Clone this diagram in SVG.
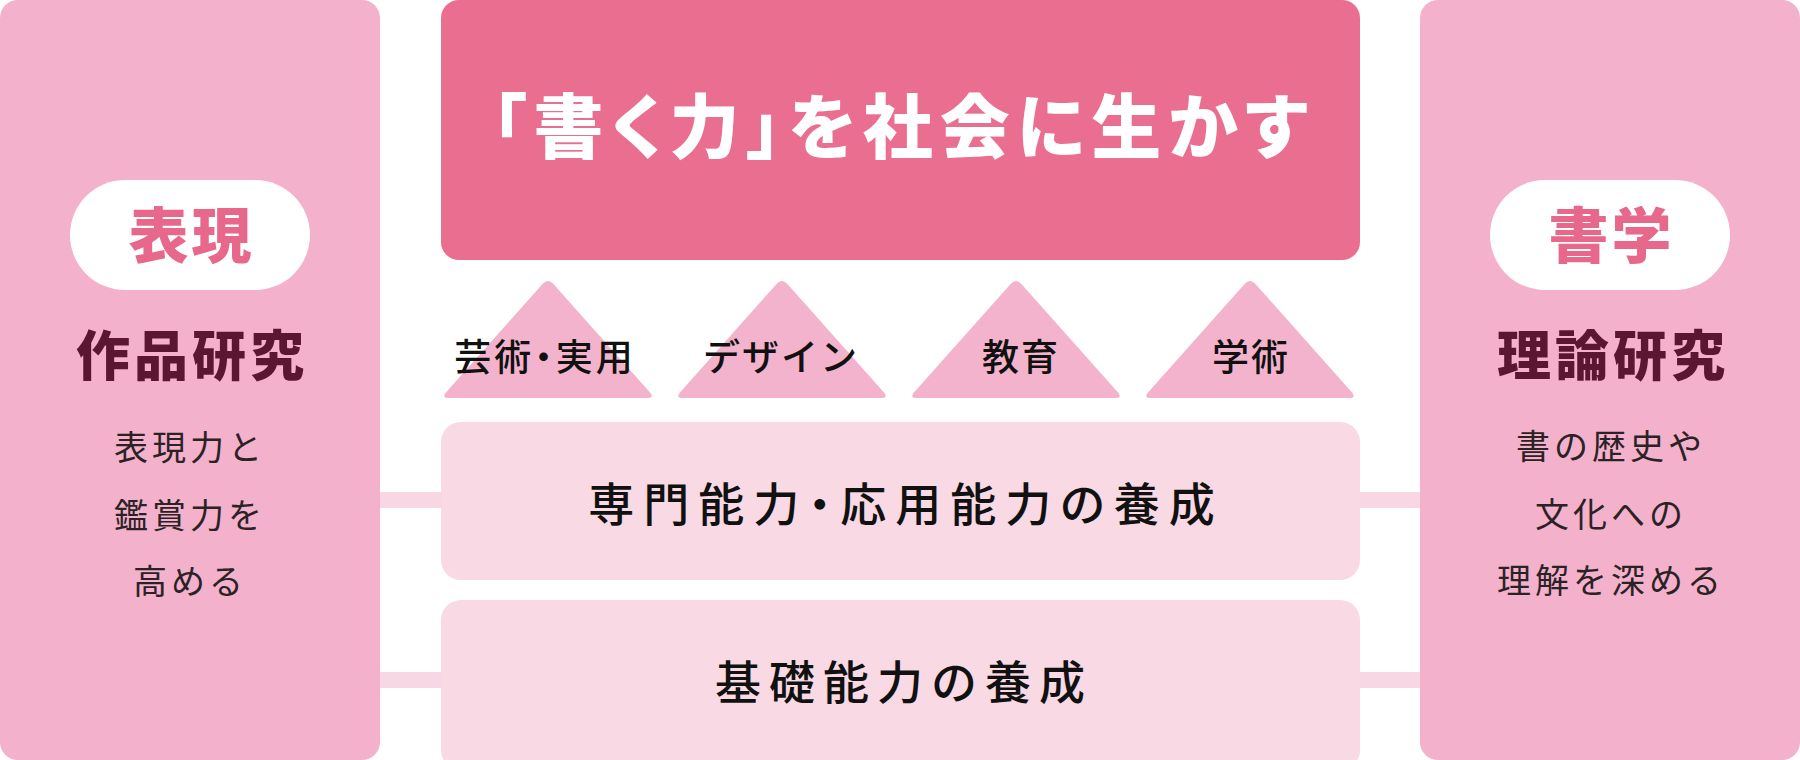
<svg xmlns="http://www.w3.org/2000/svg" xmlns:xlink="http://www.w3.org/1999/xlink" width="1800" height="760" viewBox="0 0 1800 760">
<style>
text{font-family:"Noto Sans CJK JP","Noto Sans CJK SC",sans-serif;text-anchor:middle}
.panel{fill:#f4b1cb}
.pill{fill:#ffffff}
.pilltxt{fill:#e8688c;font-size:60px;font-weight:900;letter-spacing:3px}
.head{fill:#5b1731;font-size:54px;font-weight:900;letter-spacing:4px}
.sub{fill:#2b2226;font-size:34px;font-weight:400;letter-spacing:4px}
.top{fill:#e96e8f}
.title{fill:#ffffff;font-size:70px;font-weight:900;letter-spacing:7px;font-feature-settings:"palt"}
.tri{fill:#f4b3cc}
.tritxt{fill:#111111;font-size:37px;font-weight:500;letter-spacing:2px}
.palt{font-feature-settings:"palt";letter-spacing:3px}
.box{fill:#f8d9e4}
.boxtxt{fill:#111111;font-size:46px;font-weight:500;letter-spacing:8px}
.boxtxt2{font-feature-settings:"palt";letter-spacing:9px}
.bar{fill:#f7d7e3}
</style>
<defs>
<path id="triShape" d="M -5.4,283.9 Q 0,278 5.4,283.9 L 101.6,392.1 Q 107,398 99,398 L -99,398 Q -107,398 -101.6,392.1 Z"/>
</defs>
<g id="connectors">
<rect class="bar" x="378" y="492" width="66" height="16"/>
<rect class="bar" x="378" y="672" width="66" height="16"/>
<rect class="bar" x="1356" y="492" width="66" height="16"/>
<rect class="bar" x="1356" y="672" width="66" height="16"/>
</g>
<g id="left-panel">
<rect class="panel" x="0" y="0" width="380" height="760" rx="18"/>
<rect class="pill" x="70" y="180" width="240" height="110" rx="55"/>
<text class="pilltxt" x="191.5" y="258">表現</text>
<text class="head" x="192" y="376">作品研究</text>
<text class="sub" x="190" y="460">表現力と</text>
<text class="sub" x="190" y="528">鑑賞力を</text>
<text class="sub" x="190" y="594">高める</text>
</g>
<g id="right-panel">
<rect class="panel" x="1420" y="0" width="380" height="760" rx="18"/>
<rect class="pill" x="1490" y="180" width="240" height="110" rx="55"/>
<text class="pilltxt" x="1611.5" y="258">書学</text>
<text class="head" x="1613" y="376">理論研究</text>
<text class="sub" x="1611" y="459">書の歴史や</text>
<text class="sub" x="1611" y="527">文化への</text>
<text class="sub" x="1611" y="593">理解を深める</text>
</g>
<g id="goal">
<rect class="top" x="441" y="0" width="919" height="260" rx="18"/>
<text class="title" x="903" y="153">「書く力」を社会に生かす</text>
</g>
<g id="field-art">
<use xlink:href="#triShape" class="tri" x="548"/>
<text class="tritxt palt" x="545" y="371">芸術・実用</text>
</g>
<g id="field-design">
<use xlink:href="#triShape" class="tri" x="782"/>
<text class="tritxt" x="781" y="371">デザイン</text>
</g>
<g id="field-education">
<use xlink:href="#triShape" class="tri" x="1016"/>
<text class="tritxt" x="1021" y="371">教育</text>
</g>
<g id="field-academic">
<use xlink:href="#triShape" class="tri" x="1250"/>
<text class="tritxt" x="1251" y="371">学術</text>
</g>
<g id="applied">
<rect class="box" x="441" y="422" width="919" height="158" rx="20"/>
<text class="boxtxt boxtxt2" x="906" y="521">専門能力・応用能力の養成</text>
</g>
<g id="basic">
<rect class="box" x="441" y="600" width="919" height="170" rx="20"/>
<text class="boxtxt" x="904" y="699">基礎能力の養成</text>
</g>
</svg>
